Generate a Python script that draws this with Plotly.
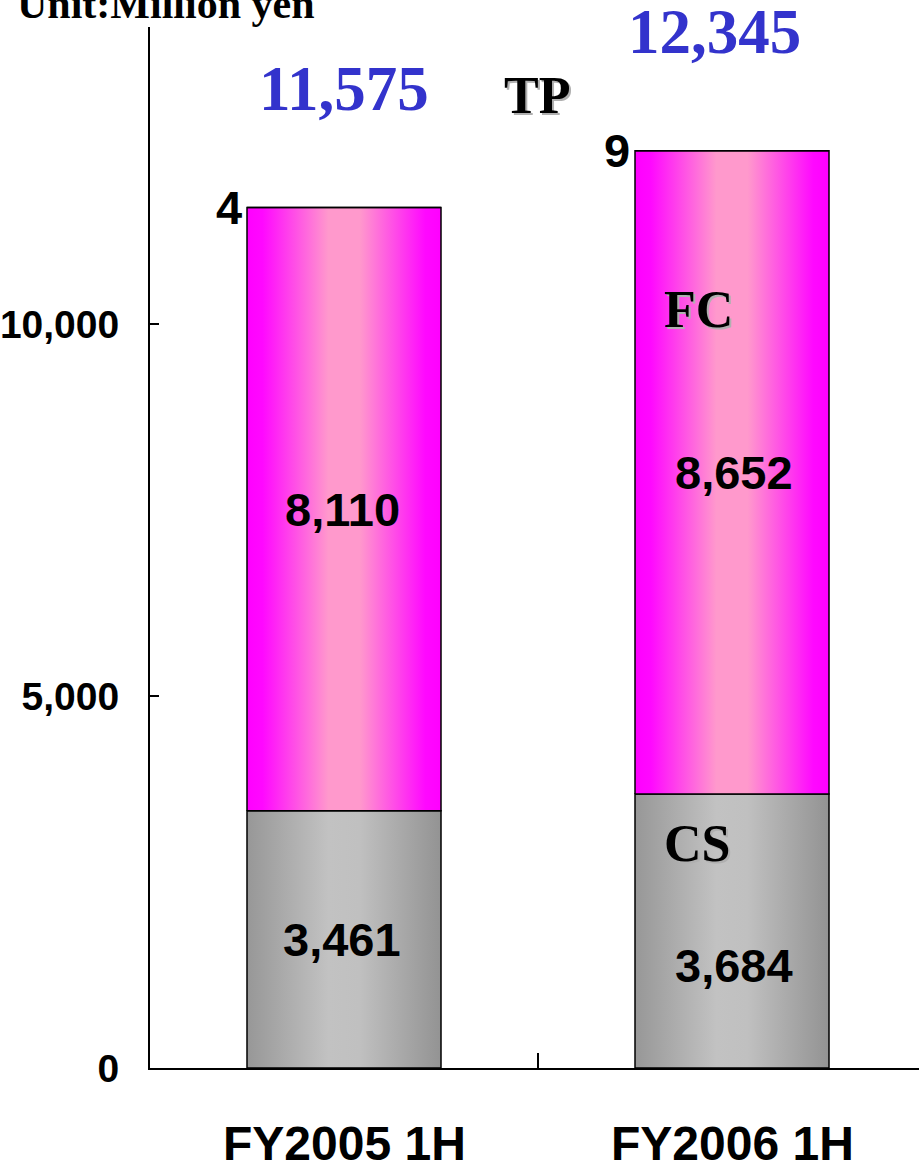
import plotly.graph_objects as go

# Half-year sales breakdown (unit: million yen)
periods = ["FY2005 1H", "FY2006 1H"]
cs_values = [3461, 3684]
fc_values = [8110, 8652]
tp_values = [4, 9]
totals = [11575, 12345]

segment_names = ["CS", "FC", "TP"]
segment_values = [cs_values, fc_values, tp_values]

y_ticks = [0, 5000, 10000]
y_tick_text = ["0", "5,000", "10,000"]

SANS = "Liberation Sans, Arial, sans-serif"
SERIF = "Liberation Serif, Times New Roman, serif"

gray_scale = [[0, "#979797"], [0.42, "#C2C2C2"], [0.58, "#C0C0C0"], [1, "#939393"]]
pink_scale = [[0, "#FF00FF"], [0.08, "#FF08FF"], [0.42, "#FF99CC"],
              [0.58, "#FF99CC"], [0.92, "#FF08FF"], [1, "#FF00FF"]]
scales = {"CS": gray_scale, "FC": pink_scale, "TP": pink_scale}

half_width = 0.25

fig = go.Figure()

# stacked bars drawn as outlined polygons with a horizontal gradient fill
for i in range(len(periods)):
    base = 0
    for name, vals in zip(segment_names, segment_values):
        top = base + vals[i]
        x0, x1 = i - half_width, i + half_width
        fig.add_trace(go.Scatter(
            x=[x0, x1, x1, x0, x0],
            y=[base, base, top, top, base],
            mode="lines",
            fill="toself",
            fillgradient=dict(type="horizontal", colorscale=scales[name]),
            line=dict(color="black", width=1.5),
            name=name,
            showlegend=False,
            hovertemplate=f"{periods[i]}<br>{name}: {vals[i]:,}<extra></extra>",
        ))
        base = top

annotations = []

# values inside the segments
for i in range(len(periods)):
    base = 0
    for name, vals, in zip(["CS", "FC"], [cs_values, fc_values]):
        mid = base + vals[i] / 2
        shift = -34 if (name == "CS" and i == 1) else 0
        annotations.append(dict(
            x=i, y=mid, xref="x", yref="y", text=f"{vals[i]:,}",
            showarrow=False, yshift=shift, xshift=-2 if i == 0 else 2,
            font=dict(family=SANS, size=47, color="black"),
        ))
        base += vals[i]
    # small TP amount next to the top of each bar
    annotations.append(dict(
        x=i - half_width, y=totals[i], xref="x", yref="y", text=f"{tp_values[i]:,}",
        showarrow=False, xanchor="right", xshift=-3, yshift=0,
        font=dict(family=SANS, size=47, color="black"),
    ))
    # totals above the bars
    annotations.append(dict(
        x=i, y=totals[i], xref="x", yref="y", text=f"{totals[i]:,}",
        showarrow=False, yshift=118, xshift=0 if i == 0 else -18,
        font=dict(family=SERIF, size=63, color="#3333CC"),
    ))
    # period labels
    annotations.append(dict(
        x=i, y=-0.073, xref="x", yref="paper", text=periods[i],
        showarrow=False, yanchor="middle",
        font=dict(family=SANS, size=48, color="black"),
    ))

# segment names with a soft drop shadow
legend_marks = [("TP", 0.415, 13085), ("FC", 0.827, 10207), ("CS", 0.827, 3019)]
for label, lx, ly in legend_marks:
    for dx, dy, col in [(-1, -2, "#B0B0B0"), (-3, 0, "black")]:
        annotations.append(dict(
            x=lx, y=ly, xref="x", yref="y", text=f"<b>{label}</b>",
            showarrow=False, xanchor="left", xshift=dx, yshift=dy,
            font=dict(family=SERIF, size=52, color=col),
        ))

annotations.append(dict(
    x=0, y=1.022, xref="paper", yref="paper", text="<b>Unit:Million yen</b>",
    showarrow=False, xanchor="left", yanchor="middle", xshift=-135,
    font=dict(family=SERIF, size=42, color="black"),
))

fig.update_layout(
    width=919, height=1165,
    margin=dict(l=150, r=0, t=27, b=97, autoexpand=False),
    paper_bgcolor="white", plot_bgcolor="white",
    font=dict(family=SANS, color="black"),
    annotations=annotations,
    showlegend=False,
)
fig.update_xaxes(
    range=[-0.5, -0.5 + 769 / 388], showgrid=False, zeroline=False,
    showline=True, linecolor="black", linewidth=1.5,
    tickmode="array", tickvals=[0.5], ticktext=[""],
    ticks="inside", ticklen=15, tickwidth=1.5, tickcolor="black",
    showticklabels=False, automargin=False,
)
fig.update_yaxes(
    range=[0, 14000], showgrid=False, zeroline=False,
    showline=True, linecolor="black", linewidth=2,
    tickmode="array", tickvals=y_ticks, ticktext=y_tick_text,
    ticks="inside", ticklen=9, tickwidth=2, tickcolor="black",
    ticklabelstandoff=21, automargin=False,
    tickfont=dict(family=SANS, size=39, color="black", weight="bold"),
)

for a in fig.layout.annotations:
    if a.font.family == SANS:
        a.font.weight = "bold"
    elif a.font.color == "#3333CC":
        a.font.weight = "bold"

fig.write_html("out.html")
